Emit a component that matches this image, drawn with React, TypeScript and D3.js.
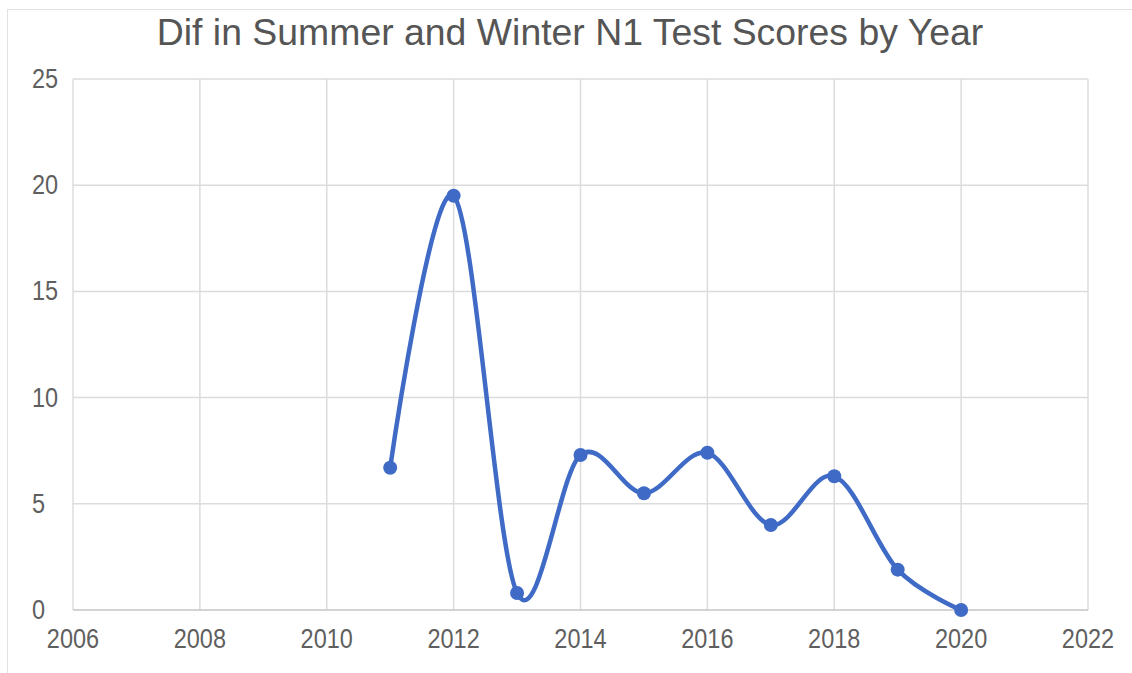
import React from 'react';
import * as d3 from 'd3';

const years = [2011, 2012, 2013, 2014, 2015, 2016, 2017, 2018, 2019, 2020];
const diffs = [6.7, 19.5, 0.8, 7.3, 5.5, 7.4, 4.0, 6.3, 1.9, 0];
const xTicks = [2006, 2008, 2010, 2012, 2014, 2016, 2018, 2020, 2022];
const yTicks = [0, 5, 10, 15, 20, 25];

const W = 1132;
const H = 673;
const left = 73, right = 1088, top = 79, bottom = 610;
const font = '"Liberation Sans", Arial, sans-serif';
const blue = '#3f6bc6';
const labelGray = '#5f5f5f';

const App: React.FC = () => {
  const x = d3.scaleLinear().domain([2006, 2022]).range([left, right]);
  const y = d3.scaleLinear().domain([0, 25]).range([bottom, top]);

  const pts = years.map((yr, i) => [yr, diffs[i]] as [number, number]);
  const line = d3.line<[number, number]>()
    .x(d => x(d[0]))
    .y(d => y(d[1]))
    .curve(d3.curveCardinal.tension(0));

  // tick digits in the source look a bit taller than wide
  const tickTf = (tx: number, ty: number) => `translate(${tx},${ty}) scale(1,1.15)`;

  return (
    <svg width={W} height={H} style={{ position: 'absolute', left: 0, top: 0 }}>
      <rect x={0} y={0} width={W} height={H} fill="#fff" />
      <rect x={7.5} y={9.5} width={W} height={H} fill="#fff" stroke="#e2e2e2" />
      <text x={570} y={45} textAnchor="middle" fontFamily={font} fontSize={37.4} fill="#555">
        Dif in Summer and Winter N1 Test Scores by Year
      </text>
      {yTicks.map(t => (
        <g key={'y' + t}>
          {t > 0 && <line x1={left} x2={right} y1={y(t)} y2={y(t)} stroke="#dcdcdc" strokeWidth={1.5} />}
          <text transform={tickTf(32, y(t) + 9)} textAnchor="start" fontFamily={font} fontSize={23.5} fill={labelGray}>{t}</text>
        </g>
      ))}
      {xTicks.map(t => (
        <g key={'x' + t}>
          <line x1={x(t)} x2={x(t)} y1={top} y2={bottom} stroke="#dcdcdc" strokeWidth={1.5} />
          <text transform={tickTf(x(t), 648)} textAnchor="middle" fontFamily={font} fontSize={23.5} fill={labelGray}>{t}</text>
        </g>
      ))}
      <line x1={left} x2={right} y1={bottom} y2={bottom} stroke="#c4c4c4" strokeWidth={1.5} />
      <path d={line(pts) ?? ''} fill="none" stroke={blue} strokeWidth={4.5} />
      {pts.map(p => (
        <circle key={p[0]} cx={x(p[0])} cy={y(p[1])} r={7} fill={blue} />
      ))}
    </svg>
  );
};

export default App;
